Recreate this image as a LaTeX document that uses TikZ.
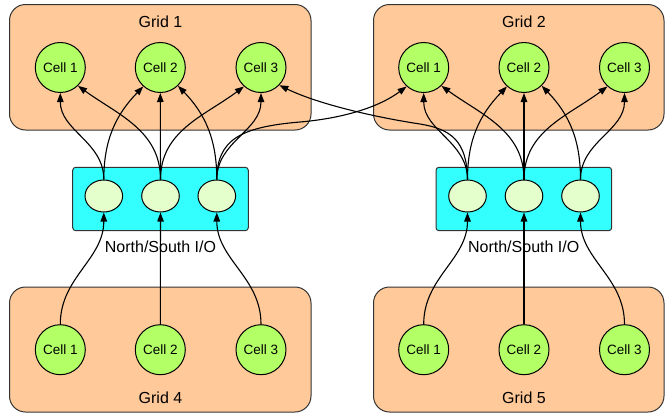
\documentclass[tikz,border=0pt]{standalone}
\usepackage{fontspec}
\setmainfont{Liberation Sans}
\usetikzlibrary{arrows.meta,shapes.geometric}
\definecolor{peach}{RGB}{255,201,153}
\definecolor{cellg}{RGB}{178,255,102}
\definecolor{iocyan}{RGB}{51,255,255}
\definecolor{portg}{RGB}{229,255,204}
\begin{document}
\begin{tikzpicture}[x=1pt,y=1pt,
 gridbox/.style={draw=black!80, fill=peach, rounded corners=16pt, line width=1pt, inner sep=0pt},
 iobox/.style={draw=black!80, fill=iocyan, rounded corners=3pt, line width=1pt, inner sep=0pt},
 cell/.style={circle, draw=black, fill=cellg, minimum size=50pt, inner sep=0pt, line width=1pt, font=\fontsize{13.5}{16}\selectfont},
 port/.style={ellipse, draw=black, fill=portg, minimum width=37.6pt, minimum height=32pt, inner sep=0pt, line width=1pt},
 lab/.style={font=\fontsize{16}{19}\selectfont, inner sep=0pt},
 link/.style={-{Triangle[length=9pt,width=6.5pt]}, line width=1.1pt}
]
\useasboundingbox (0,0) rectangle (665,-413);
% grid boxes
\node[gridbox, minimum width=301.5pt, minimum height=125.5pt] (g1) at (160.25,-67.25) {};
\node[gridbox, minimum width=290.5pt, minimum height=125.5pt] (g2) at (518.75,-67.25) {};
\node[gridbox, minimum width=301.5pt, minimum height=125pt] (g4) at (160.25,-349.5) {};
\node[gridbox, minimum width=290.5pt, minimum height=125pt] (g5) at (518.75,-349.5) {};
\node[lab] (l1) at (160.5,-21.5) {Grid 1};
\node[lab] (l2) at (524,-21.5) {Grid 2};
\node[lab] (l4) at (160.5,-397.5) {Grid 4};
\node[lab] (l5) at (524,-397.5) {Grid 5};
% io boxes
\node[iobox, minimum width=175.6pt, minimum height=63.4pt] (io1) at (160.5,-199) {};
\node[iobox, minimum width=175.7pt, minimum height=63.4pt] (io2) at (523.85,-199) {};
\node[lab] (n1) at (160.5,-247) {North/South I/O};
\node[lab] (n2) at (523.7,-247) {North/South I/O};
% ports
\node[port] (e11) at (103.8,-196) {};
\node[port] (e12) at (160.5,-196) {};
\node[port] (e13) at (216.8,-196) {};
\node[port] (e21) at (467.5,-196) {};
\node[port] (e22) at (524,-196) {};
\node[port] (e23) at (580.5,-196) {};
% cells
\node[cell] (a1) at (60.3,-67.5) {Cell 1};
\node[cell] (a2) at (160.3,-67.5) {Cell 2};
\node[cell] (a3) at (261,-67.5) {Cell 3};
\node[cell] (b1) at (423.7,-67.5) {Cell 1};
\node[cell] (b2) at (524,-67.5) {Cell 2};
\node[cell] (b3) at (624.5,-67.5) {Cell 3};
\node[cell] (d1) at (60.3,-349.7) {Cell 1};
\node[cell] (d2) at (160.3,-349.7) {Cell 2};
\node[cell] (d3) at (261,-349.7) {Cell 3};
\node[cell] (f1) at (423.7,-349.7) {Cell 1};
\node[cell] (f2) at (524,-349.7) {Cell 2};
\node[cell] (f3) at (624.5,-349.7) {Cell 3};
% upward links, left
\draw[link] (e11.north) to[out=90,in=-90] (a1.south);
\draw[link] (e11.north) to[out=90,in=-134] (a2.-132);
\draw[link] (e12.north) to[out=90,in=-36] (a1.-46);
\draw[link] (e12.north) -- (a2.south);
\draw[link] (e12.north) to[out=90,in=-143] (a3.-132);
\draw[link] (e13.north) to[out=90,in=-46] (a2.-46);
\draw[link] (e13.north) to[out=90,in=-90] (a3.south);
\draw[link] (e13.north) .. controls (217,-140) and (240,-127) .. (300,-122)
  .. controls (335,-119) and (375,-110) .. (b1.-132);
% upward links, right
\draw[link] (e21.north) to[out=90,in=-90] (b1.south);
\draw[link] (e21.north) to[out=90,in=-134] (b2.-132);
\draw[link] (e21.north) .. controls (467,-140) and (450,-129) .. (420,-124)
  .. controls (380,-118) and (320,-105) .. (a3.-44);
\draw[link] (e22.north) to[out=90,in=-36] (b1.-46);
\draw[link] (e22.north) -- (b2.south);
\draw[link] (e22.north) to[out=90,in=-143] (b3.-132);
\draw[link] (e23.north) to[out=90,in=-46] (b2.-46);
\draw[link] (e23.north) to[out=90,in=-90] (b3.south);
% from bottom grids
\draw[link] (d1.north) to[out=90,in=-90] (e11.south);
\draw[link] (d2.north) -- (e12.south);
\draw[link] (d3.north) to[out=90,in=-90] (e13.south);
\draw[link] (f1.north) to[out=90,in=-90] (e21.south);
\draw[link] (f2.north) -- (e22.south);
\draw[link] (f3.north) to[out=90,in=-90] (e23.south);
\end{tikzpicture}
\end{document}
